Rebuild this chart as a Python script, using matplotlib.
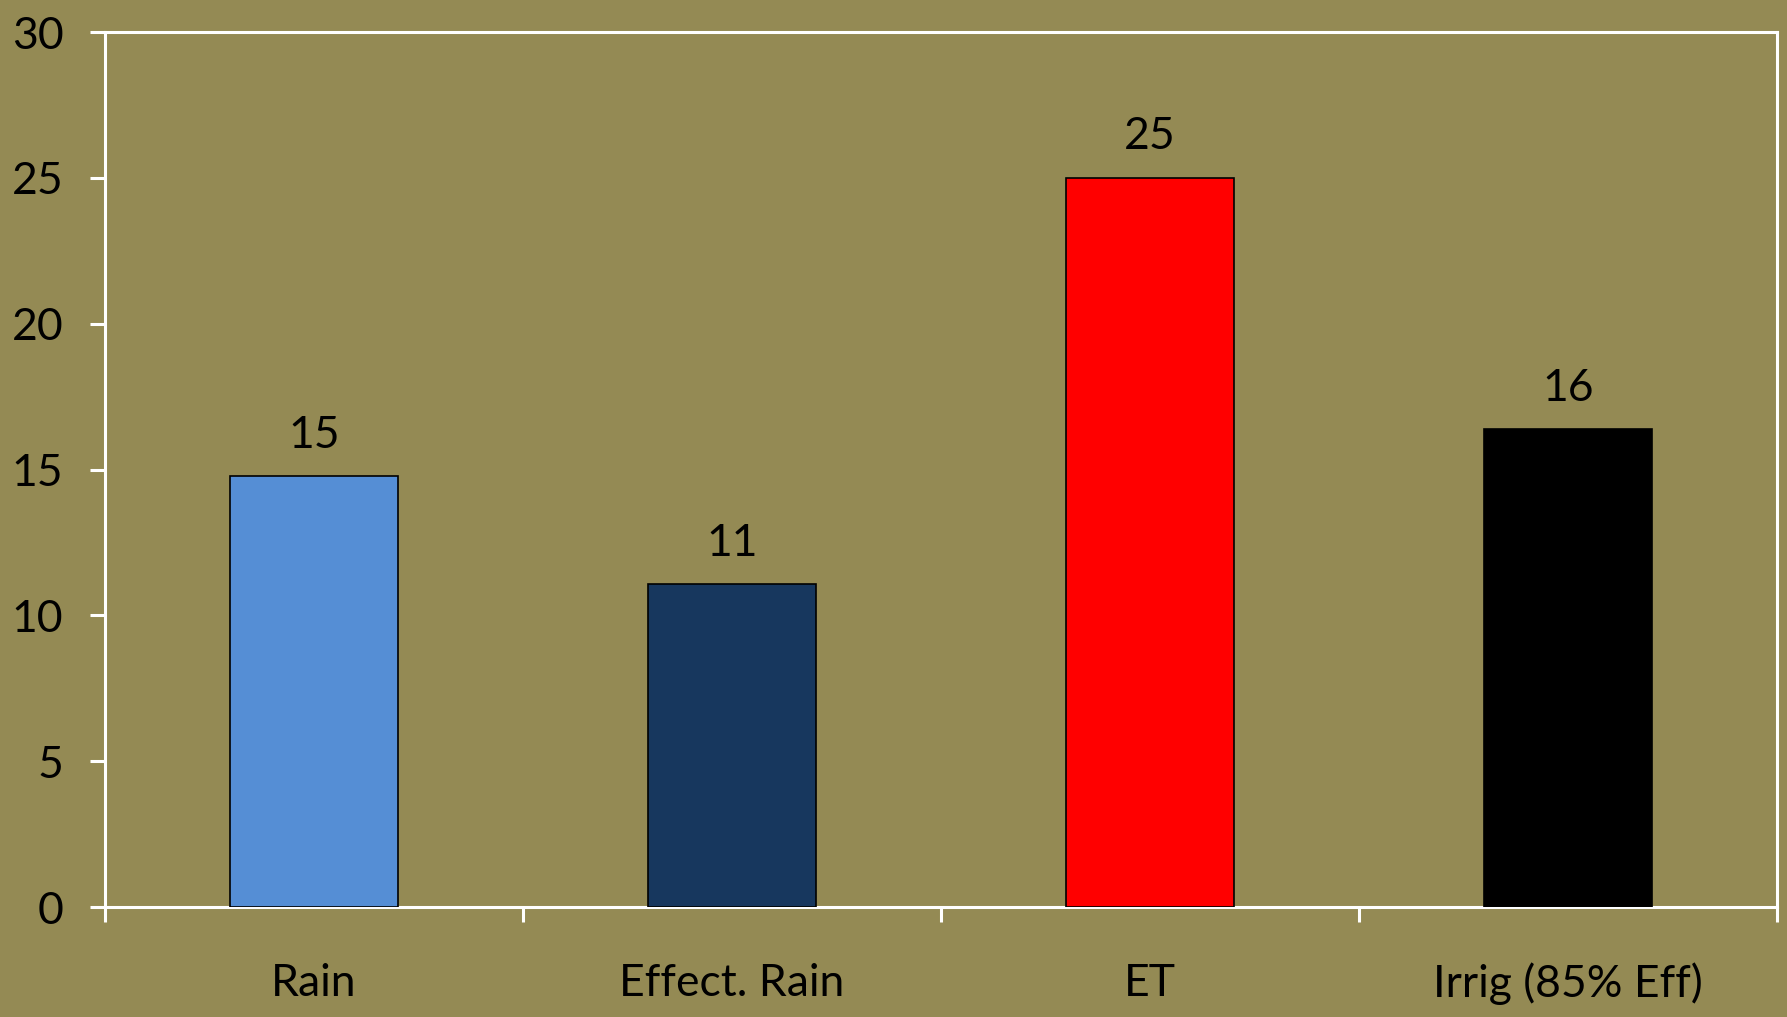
import numpy as np
import matplotlib.pyplot as plt

plt.rcParams["font.family"] = ["Lato", "DejaVu Sans"]

categories = ["Rain", "Effect. Rain", "ET", "Irrig (85% Eff)"]
values = [14.78, 11.08, 25.0, 16.39]
colors = ["#558ED5", "#17375E", "#FF0000", "#000000"]
yticks = [0, 5, 10, 15, 20, 25, 30]

BG = "#948A54"
FS = 32

fig = plt.figure(figsize=(17.87, 10.17), dpi=100, facecolor=BG)
ax = fig.add_axes([0.0588, 0.108, 0.9356, 0.8605])
ax.set_facecolor(BG)

x = np.arange(len(categories))
bars = ax.bar(x, values, width=0.4, color=colors, edgecolor="black", linewidth=1.2, zorder=3)

for xi, v in zip(x, values):
    ax.text(xi, v + 0.7, f"{v:.0f}", ha="center", va="bottom", fontsize=FS, color="black")

ax.set_xlim(-0.5, len(categories) - 0.5)
ax.set_ylim(0, 30)
ax.set_yticks(yticks)
ax.set_yticklabels([str(t) for t in yticks], fontsize=FS)

# category labels sit between tick marks placed at the boundaries
ax.set_xticks(np.arange(-0.5, len(categories), 1.0))
ax.set_xticklabels([])
ax.set_xticks(x, minor=True)
ax.set_xticklabels(categories, minor=True, fontsize=FS)
ax.tick_params(axis="x", which="minor", length=0, pad=40)
ax.tick_params(axis="x", which="major", length=11, width=2.2, color="white", direction="out")
ax.tick_params(axis="y", length=11, width=2.2, color="white", direction="out", pad=19)

for s in ax.spines.values():
    s.set_color("white")
    s.set_linewidth(2.2)

fig.savefig("out.png", dpi=100, facecolor=BG)
